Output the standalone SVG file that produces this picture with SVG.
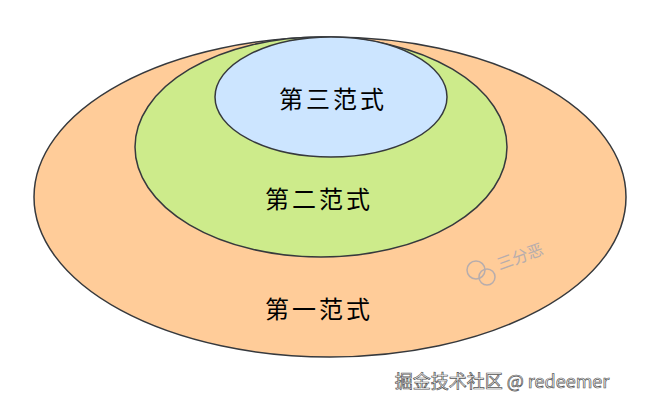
<svg xmlns="http://www.w3.org/2000/svg" width="670" height="408" viewBox="0 0 670 408">
<style>
.e{stroke:#36393d;stroke-width:1.5}
.t{font-family:"Noto Sans CJK SC",sans-serif;font-size:24px;fill:#000;text-anchor:middle;letter-spacing:3px}
</style>
<rect width="670" height="408" fill="#fff"/>
<g id="nf1"><ellipse class="e" cx="330" cy="197" rx="296" ry="160" fill="#ffcc99"/><text class="t" x="319" y="318">第一范式</text></g>
<g id="nf2"><ellipse class="e" cx="321" cy="147" rx="186" ry="110" fill="#cdeb8b"/><text class="t" x="319" y="208">第二范式</text></g>
<g id="nf3"><ellipse class="e" cx="331" cy="97" rx="116" ry="60" fill="#cce5ff"/><text class="t" x="333" y="108">第三范式</text></g>
<g id="connectors"/>
<g opacity="0.6">
<text x="522" y="262" transform="rotate(-20 522 262)" font-family="Noto Sans CJK SC,sans-serif" font-size="16" fill="#8899bb" text-anchor="middle">三分恶</text>
<circle cx="476" cy="270" r="9" fill="none" stroke="#8899bb" stroke-width="1.5"/>
<circle cx="487" cy="277" r="8" fill="none" stroke="#8899bb" stroke-width="1.5"/>
</g>
<text x="502" y="388" font-family="Noto Sans CJK SC,sans-serif" font-size="18" fill="#fff" stroke="#555" stroke-width="0.7" text-anchor="middle">掘金技术社区 @ redeemer</text>
</svg>
